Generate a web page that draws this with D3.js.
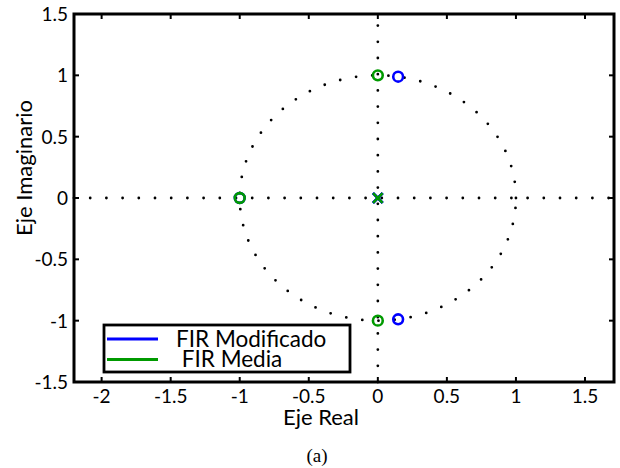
<!DOCTYPE html>
<html>
<head>
<meta charset="utf-8">
<script src="https://cdn.jsdelivr.net/npm/d3@7"></script>
<style>
  body { margin: 0; background: #fff; }
  text { font-family: Lato, "Open Sans", sans-serif; fill: #000; }
</style>
</head>
<body>
<script>
// zeros / poles
const modZeros = [[-1, 0], [0.147, 0.989], [0.147, -0.989]];
const modPoles = [[0, 0], [0, 0], [0, 0]];
const mediaZeros = [[-1, 0], [0, 1], [0, -1]];
const mediaPoles = [[0, 0]];

const xTicks = [-2, -1.5, -1, -0.5, 0, 0.5, 1, 1.5];
const yTicks = [-1.5, -1, -0.5, 0, 0.5, 1, 1.5];

const legendNames = ["FIR Modificado", " FIR Media"];
const colors = ["#0000ff", "#009a00"];

const svgWidth = 620, svgHeight = 468;
const plot = {left: 74, right: 614, top: 14, bottom: 382};

const svg = d3.select('body').append('svg')
  .attr('width', svgWidth)
  .attr('height', svgHeight);

const xScale = d3.scaleLinear().domain([-2.2, 1.71]).range([plot.left, plot.right]);
const yScale = d3.scaleLinear().domain([-1.5, 1.5]).range([plot.bottom, plot.top]);

// dotted unit circle and axes lines
const dotted = {stroke: '#000', 'stroke-width': 2.8, 'stroke-linecap': 'round', 'stroke-dasharray': '0 16.2', fill: 'none'};
function applyDots(sel) {
  for (const k in dotted) sel.attr(k, dotted[k]);
  return sel;
}

const angles = d3.range(0, 361, 1).map(a => a * Math.PI / 180);
const line = d3.line().x(d => xScale(d[0])).y(d => yScale(d[1]));
applyDots(svg.append('path').attr('d', line(angles.map(a => [Math.cos(a), Math.sin(a)]))));
applyDots(svg.append('path').attr('d', line([[xScale.domain()[0], 0], [xScale.domain()[1], 0]])));
applyDots(svg.append('path').attr('d', line([[0, -1.5], [0, 1.5]])));

// markers
function drawZeros(pts, c) {
  svg.selectAll(null).data(pts).enter().append('circle')
    .attr('cx', d => xScale(d[0]))
    .attr('cy', d => yScale(d[1]))
    .attr('r', 4.9)
    .attr('fill', 'none')
    .attr('stroke', c)
    .attr('stroke-width', 2.6);
}
function drawPoles(pts, c) {
  const s = 4.8;
  svg.selectAll(null).data(pts).enter().append('path')
    .attr('d', d => {
      const x = xScale(d[0]), y = yScale(d[1]);
      return `M${x - s},${y - s}L${x + s},${y + s}M${x - s},${y + s}L${x + s},${y - s}`;
    })
    .attr('stroke', c)
    .attr('stroke-width', 2.6);
}
drawZeros(modZeros, colors[0]);
drawPoles(modPoles, colors[0]);
drawZeros(mediaZeros, colors[1]);
drawPoles(mediaPoles, colors[1]);

// ticks, inward on all four sides
const tl = 5;
const tg = svg.append('g').attr('stroke', '#000').attr('stroke-width', 2);
xTicks.forEach(t => {
  tg.append('line').attr('x1', xScale(t)).attr('x2', xScale(t)).attr('y1', plot.bottom).attr('y2', plot.bottom - tl);
  tg.append('line').attr('x1', xScale(t)).attr('x2', xScale(t)).attr('y1', plot.top).attr('y2', plot.top + tl);
});
yTicks.forEach(t => {
  tg.append('line').attr('y1', yScale(t)).attr('y2', yScale(t)).attr('x1', plot.left).attr('x2', plot.left + tl);
  tg.append('line').attr('y1', yScale(t)).attr('y2', yScale(t)).attr('x1', plot.right).attr('x2', plot.right - tl);
});

svg.selectAll('.xl').data(xTicks).enter().append('text')
  .attr('x', d => xScale(d))
  .attr('y', 403)
  .attr('text-anchor', 'middle')
  .style('font-size', '19px')
  .text(d => d);

svg.selectAll('.yl').data(yTicks).enter().append('text')
  .attr('x', 68)
  .attr('y', d => yScale(d) + 7)
  .attr('text-anchor', 'end')
  .style('font-size', '19px')
  .text(d => d);

// frame
svg.append('rect')
  .attr('x', plot.left).attr('y', plot.top)
  .attr('width', plot.right - plot.left).attr('height', plot.bottom - plot.top)
  .attr('fill', 'none').attr('stroke', '#000').attr('stroke-width', 3);

// axis labels
svg.append('text')
  .attr('x', 321).attr('y', 425)
  .attr('text-anchor', 'middle')
  .style('font-size', '22px')
  .text('Eje Real');

svg.append('text')
  .attr('transform', 'translate(32,168) rotate(-90)')
  .attr('text-anchor', 'middle')
  .style('font-size', '22px')
  .text('Eje Imaginario');

svg.append('text')
  .attr('x', 317).attr('y', 462)
  .attr('text-anchor', 'middle')
  .style('font-family', '"Liberation Serif", "Times New Roman", serif')
  .style('font-size', '19px')
  .text('(a)');

// legend
const lg = svg.append('g');
lg.append('rect')
  .attr('x', 104).attr('y', 325).attr('width', 246).attr('height', 47)
  .attr('fill', '#fff').attr('stroke', '#000').attr('stroke-width', 2.8);
legendNames.forEach((n, i) => {
  const y = 339 + i * 20.5;
  lg.append('line').attr('x1', 107).attr('x2', 158).attr('y1', y).attr('y2', y)
    .attr('stroke', colors[i]).attr('stroke-width', 3);
  lg.append('text').attr('x', 176).attr('y', y + 7.5)
    .style('font-size', '22.5px')
    .style('white-space', 'pre')
    .text(n);
});
</script>
</body>
</html>
